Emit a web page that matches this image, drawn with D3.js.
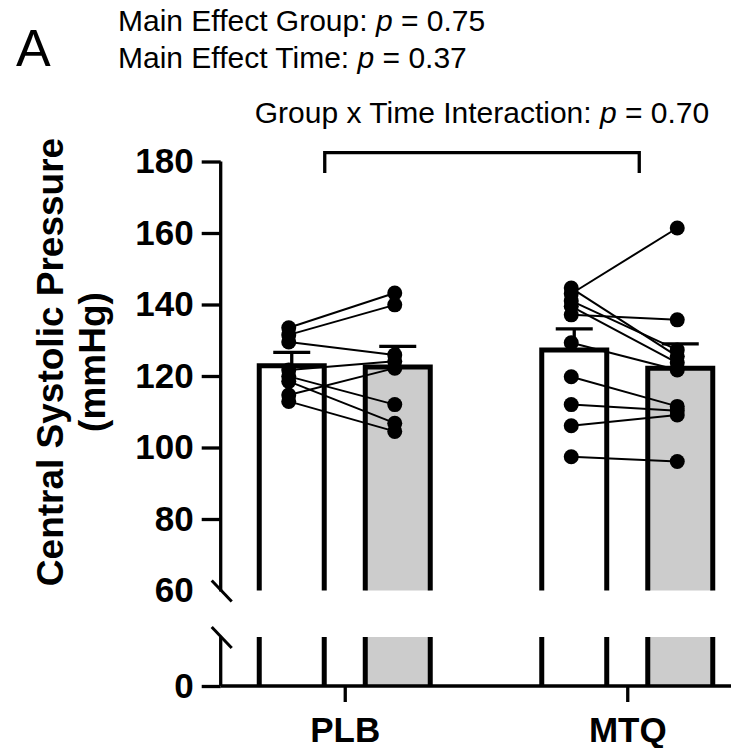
<!DOCTYPE html>
<html>
<head>
<meta charset="utf-8">
<script src="https://cdn.jsdelivr.net/npm/d3@7"></script>
<style>
  body { margin: 0; background: #fff; }
  text { font-family: "Liberation Sans", Arial, sans-serif; }
</style>
</head>
<body>
<div id="chart"></div>
<script>
// groups and time points
const groups = ['PLB', 'MTQ']
const times = ['Pre', 'Post']

// individual subjects, pre -> post (same order = same subject)
const plbPre = [133.5, 131.5, 129.5, 121.7, 119.9, 118.5, 114.7, 112.9]
const plbPost = [143.2, 139.9, 125.9, 124.1, 112.0, 106.8, 122.2, 104.5]
const mtqPre = [144.6, 143.0, 141.0, 139.5, 137.1, 129.3, 119.8, 112.0, 106.1, 97.4]
const mtqPost = [125.5, 161.4, 127.3, 123.7, 135.7, 121.7, 111.5, 110.3, 109.1, 96.1]

// bar means and SEM: PLB pre, PLB post, MTQ pre, MTQ post
const barMeans = [122.9, 122.5, 127.3, 122.2]
const barSem = [3.7, 5.8, 5.9, 6.8]

// y axis ticks, upper and lower segment
const upperTicks = [60, 80, 100, 120, 140, 160, 180]
const lowerTicks = [0]

const statLines = [
    ['Main Effect Group: ', '0.75'],
    ['Main Effect Time: ', '0.37']
]
const interactionText = ['Group x Time Interaction: ', '0.70']

function draw() {
    const width = 747
    const height = 748
    const axisX = 220.7
    const axisW = 3.3

    const svg = d3.select('#chart')
        .append('svg')
        .attr('width', width)
        .attr('height', height)

    // scales
    const xGroup = d3.scalePoint()
        .domain(groups)
        .range([203.5, 768.5])
        .padding(0.5)
    const xTime = d3.scaleBand()
        .domain(times)
        .range([-85.5, 85.5])
        .paddingInner(0.387)
    // broken y axis: two segments
    const yUp = d3.scaleLinear().domain([60, 180]).range([590.5, 161.5])
    const yLow = d3.scaleLinear().domain([0, 13.7]).range([686, 637])

    const bars = []
    groups.forEach((g, gi) => {
        times.forEach((t, ti) => {
            bars.push({
                g, t,
                mean: barMeans[gi * 2 + ti],
                sem: barSem[gi * 2 + ti],
                x: xGroup(g) + xTime(t)
            })
        })
    })
    const bw = xTime.bandwidth()

    // bar fills
    const barG = svg.append('g')
    barG.selectAll('rect.up')
        .data(bars)
        .join('rect')
        .attr('x', d => d.x)
        .attr('width', bw)
        .attr('y', d => yUp(d.mean))
        .attr('height', d => yUp(60) - yUp(d.mean))
        .attr('fill', d => d.t === 'Pre' ? '#ffffff' : '#cccccc')
    barG.selectAll('rect.low')
        .data(bars)
        .join('rect')
        .attr('x', d => d.x)
        .attr('width', bw)
        .attr('y', yLow(13.7))
        .attr('height', yLow(0) - yLow(13.7))
        .attr('fill', d => d.t === 'Pre' ? '#ffffff' : '#cccccc')

    // bar outlines, open at the break
    barG.selectAll('path.outline')
        .data(bars)
        .join('path')
        .attr('d', d => `M${d.x},${yUp(60)}V${yUp(d.mean)}H${d.x + bw}V${yUp(60)}` +
            `M${d.x},${yLow(13.7)}V${yLow(0)}M${d.x + bw},${yLow(13.7)}V${yLow(0)}`)
        .attr('fill', 'none')
        .attr('stroke', '#000')
        .attr('stroke-width', 5)

    // error bars (upper only)
    const errG = svg.append('g').attr('stroke', '#000').attr('stroke-width', 3.3)
    errG.selectAll('line.stem')
        .data(bars)
        .join('line')
        .attr('x1', d => d.x + bw / 2)
        .attr('x2', d => d.x + bw / 2)
        .attr('y1', d => yUp(d.mean))
        .attr('y2', d => yUp(d.mean + d.sem))
    errG.selectAll('line.cap')
        .data(bars)
        .join('line')
        .attr('x1', d => d.x + bw / 2 - 18.5)
        .attr('x2', d => d.x + bw / 2 + 18.5)
        .attr('y1', d => yUp(d.mean + d.sem))
        .attr('y2', d => yUp(d.mean + d.sem))

    // subject lines and dots
    const subjects = [
        { g: 'PLB', pre: plbPre, post: plbPost },
        { g: 'MTQ', pre: mtqPre, post: mtqPost }
    ]
    const dotX = (g, t) => xGroup(g) + xTime(t) + bw / 2 - 3
    subjects.forEach(s => {
        const pairs = s.pre.map((v, i) => [v, s.post[i]])
        svg.append('g')
            .selectAll('line')
            .data(pairs)
            .join('line')
            .attr('x1', dotX(s.g, 'Pre'))
            .attr('x2', dotX(s.g, 'Post'))
            .attr('y1', d => yUp(d[0]))
            .attr('y2', d => yUp(d[1]))
            .attr('stroke', '#000')
            .attr('stroke-width', 2)
        const dots = s.pre.map(v => [dotX(s.g, 'Pre'), v])
            .concat(s.post.map(v => [dotX(s.g, 'Post'), v]))
        svg.append('g')
            .selectAll('circle')
            .data(dots)
            .join('circle')
            .attr('cx', d => d[0])
            .attr('cy', d => yUp(d[1]))
            .attr('r', 7.5)
            .attr('fill', '#000')
    })

    // y axis, upper segment
    const yAxisUp = svg.append('g')
        .attr('transform', `translate(${axisX},0)`)
        .call(d3.axisLeft(yUp).tickValues(upperTicks).tickSize(19).tickSizeOuter(0).tickPadding(8))
    yAxisUp.selectAll('.tick').filter(d => d === 60).select('line').remove()
    yAxisUp.select('.domain').attr('d', `M0,${yUp(180)}V${yUp(60) + 1}`)

    // y axis, lower segment
    const yAxisLow = svg.append('g')
        .attr('transform', `translate(${axisX},0)`)
        .call(d3.axisLeft(yLow).tickValues(lowerTicks).tickSize(19).tickSizeOuter(0).tickPadding(8))
    yAxisLow.select('.domain').attr('d', `M0,${yLow(0)}V${yLow(13.7)}`)

    ;[yAxisUp, yAxisLow].forEach(a => {
        a.selectAll('path, line').attr('stroke', '#000').attr('stroke-width', axisW)
        a.selectAll('text')
            .attr('font-size', 35)
            .attr('font-weight', 'bold')
            .attr('font-family', '"Liberation Sans", Arial, sans-serif')
            .attr('fill', '#000')
    })

    // break marks
    const brk = [yUp(60), yLow(13.7)]
    svg.append('g')
        .selectAll('line')
        .data(brk)
        .join('line')
        .attr('x1', axisX - 9)
        .attr('x2', axisX + 11)
        .attr('y1', d => d - 10)
        .attr('y2', d => d + 11)
        .attr('stroke', '#000')
        .attr('stroke-width', 3)

    // x axis
    svg.append('line')
        .attr('x1', axisX)
        .attr('x2', 731)
        .attr('y1', yLow(0))
        .attr('y2', yLow(0))
        .attr('stroke', '#000')
        .attr('stroke-width', axisW)
    const xAxis = svg.append('g')
        .attr('transform', `translate(0,${yLow(0)})`)
        .call(d3.axisBottom(xGroup).tickSize(16).tickSizeOuter(0).tickPadding(15))
    xAxis.select('.domain').remove()
    xAxis.selectAll('line').attr('stroke', '#000').attr('stroke-width', axisW)
    xAxis.selectAll('text')
        .attr('font-size', 35)
        .attr('font-weight', 'bold')
        .attr('font-family', '"Liberation Sans", Arial, sans-serif')
        .attr('fill', '#000')

    // y axis title
    const yTitle = ['Central Systolic Pressure', '(mmHg)']
    svg.append('g')
        .selectAll('text')
        .data(yTitle)
        .join('text')
        .attr('transform', (d, i) => `translate(${i === 0 ? 63 : 105},362) rotate(-90)`)
        .attr('text-anchor', 'middle')
        .attr('font-size', 37)
        .attr('font-weight', 'bold')
        .text(d => d)

    // interaction bracket
    const bl = xGroup('PLB') - 20
    const br = xGroup('MTQ') + 12
    svg.append('path')
        .attr('d', `M${bl},173V152.7H${br}V173`)
        .attr('fill', 'none')
        .attr('stroke', '#000')
        .attr('stroke-width', 3.3)

    // stats text
    const pText = (sel, parts) => {
        sel.append('tspan').text(parts[0])
        sel.append('tspan').attr('font-style', 'italic').text('p')
        sel.append('tspan').text(' = ' + parts[1])
    }
    statLines.forEach((s, i) => {
        const t = svg.append('text')
            .attr('x', 118)
            .attr('y', 31 + i * 37)
            .attr('font-size', 30)
        pText(t, s)
    })
    const it = svg.append('text')
        .attr('x', (bl + br) / 2)
        .attr('y', 123)
        .attr('text-anchor', 'middle')
        .attr('font-size', 30)
    pText(it, interactionText)

    // panel letter
    svg.append('text')
        .attr('x', 16)
        .attr('y', 66)
        .attr('font-size', 52)
        .text('A')
}

draw()
</script>
</body>
</html>
